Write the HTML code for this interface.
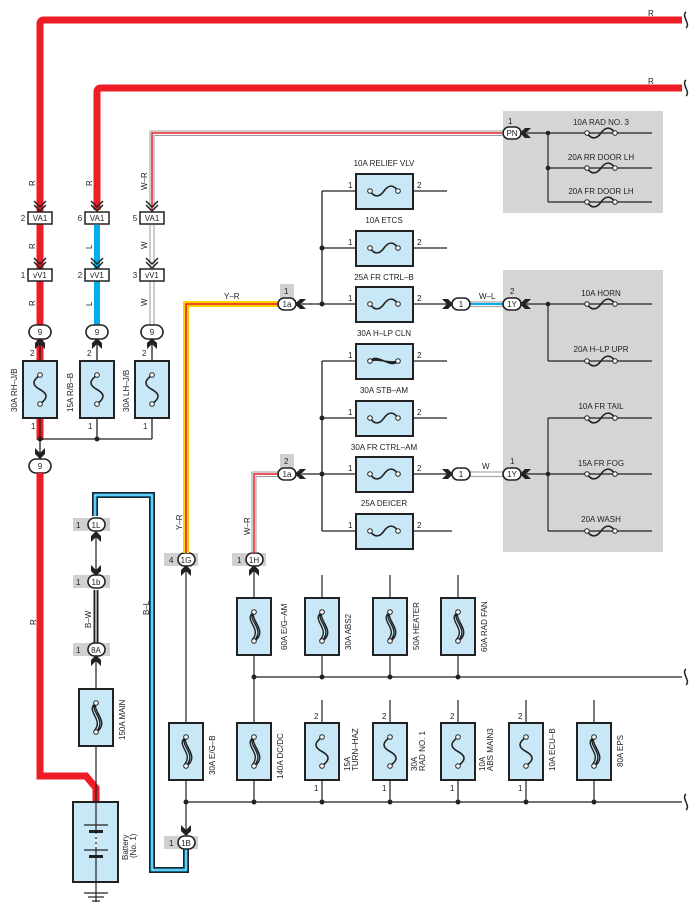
<!DOCTYPE html>
<html><head><meta charset="utf-8"><style>
html,body{margin:0;padding:0;background:#fff;}
svg{display:block;font-family:"Liberation Sans",sans-serif;}
text{font-size:8px;fill:#222;}
</style></head><body>
<svg width="697" height="915" viewBox="0 0 697 915" xmlns="http://www.w3.org/2000/svg">
<defs>
<g id="fv"><rect x="-17" y="0" width="34" height="57" fill="#c8e8f8" stroke="#222" stroke-width="2"/></g>
<g id="sc"><path d="M0,14 C-8,20 -8,24 0,28.5 C8,33 8,37 0,43" fill="none" stroke="#222" stroke-width="1.6"/><circle cx="0" cy="14" r="2.3" fill="#fff" stroke="#222"/><circle cx="0" cy="43" r="2.3" fill="#fff" stroke="#222"/></g>
<g id="lc"><path d="M0,14 C-12,22 9,30 -2,42 M0,14 C-8,22 12,30 0,43 M0,14 C-4,22 13,32 2,42" fill="none" stroke="#222" stroke-width="1.4"/><circle cx="0" cy="14" r="2.3" fill="#fff" stroke="#222"/><circle cx="0" cy="43" r="2.3" fill="#fff" stroke="#222"/></g>
<g id="hs"><path d="M-14,0 C-10,6 -5,7 0,0 C5,-7 10,-6 14,0" fill="none" stroke="#222" stroke-width="1.6"/><circle cx="-14" cy="0" r="2.3" fill="#fff" stroke="#222"/><circle cx="14" cy="0" r="2.3" fill="#fff" stroke="#222"/></g>
<g id="fh"><rect x="-28" y="-17" width="57" height="35" fill="#c8e8f8" stroke="#222" stroke-width="2"/></g>
<g id="ad"><path d="M-5,-5 L0,0 L5,-5 L5,1 L0,6 L-5,1 Z" fill="#222"/></g>
<g id="au"><path d="M-5,5 L0,0 L5,5 L5,-1 L0,-6 L-5,-1 Z" fill="#222"/></g>
<g id="al"><path d="M5,-5 L0,0 L5,5 L-1,5 L-6,0 L-1,-5 Z" fill="#222"/></g>
<g id="ar"><path d="M-5,-5 L0,0 L-5,5 L1,5 L6,0 L1,-5 Z" fill="#222"/></g>
<g id="cc"><path d="M-6,-6 L0,0 L6,-6 M-6,-2 L0,4 L6,-2" fill="none" stroke="#222" stroke-width="1.5"/></g>
<g id="brk"><path d="M0,-8 C-5,-4 5,4 0,8" fill="none" stroke="#222" stroke-width="1.5"/></g>
</defs>

<rect x="503" y="111" width="160" height="102" fill="#d4d5d7"/>
<rect x="503" y="270" width="160" height="282" fill="#d4d5d7"/>

<path d="M40,440 L40,24 Q40,20 44,20 L682,20" fill="none" stroke="#ee1c25" stroke-width="7"/>
<path d="M97,210 L97,92 Q97,88 101,88 L682,88" fill="none" stroke="#ee1c25" stroke-width="7"/>
<use href="#brk" x="686" y="20"/><use href="#brk" x="686" y="88"/>
<text x="648" y="16">R</text><text x="648" y="84">R</text>
<path d="M150,210 L150,131 L502,131" fill="none" stroke="#999" stroke-width="1"/>
<path d="M152,210 L152,133 L502,133" fill="none" stroke="#ee1c25" stroke-width="1.5"/>
<path d="M154,210 L154,135.5 L502,135.5" fill="none" stroke="#999" stroke-width="1"/>

<rect x="37" y="225" width="6" height="100" fill="#ee1c25"/>
<rect x="94" y="225" width="6" height="100" fill="#00aeef"/>
<line x1="150" y1="225" x2="150" y2="325" stroke="#999"/><line x1="154" y1="225" x2="154" y2="325" stroke="#999"/>
<g font-size="8">
<text transform="translate(35,186) rotate(-90)">R</text>
<text transform="translate(92,186) rotate(-90)">R</text>
<text transform="translate(147,190) rotate(-90)">W–R</text>
<text transform="translate(35,249) rotate(-90)">R</text>
<text transform="translate(92,249) rotate(-90)">L</text>
<text transform="translate(147,249) rotate(-90)">W</text>
<text transform="translate(35,306) rotate(-90)">R</text>
<text transform="translate(92,306) rotate(-90)">L</text>
<text transform="translate(147,306) rotate(-90)">W</text>
</g>
<use href="#cc" x="40" y="207"/><use href="#cc" x="97" y="207"/><use href="#cc" x="152" y="207"/>
<use href="#cc" x="40" y="264"/><use href="#cc" x="97" y="264"/><use href="#cc" x="152" y="264"/>
<g stroke="#222" stroke-width="1.5" fill="#fff">
<rect x="28" y="212" width="24" height="12"/><rect x="85" y="212" width="24" height="12"/><rect x="140" y="212" width="24" height="12"/>
<rect x="28" y="269" width="24" height="12"/><rect x="85" y="269" width="24" height="12"/><rect x="140" y="269" width="24" height="12"/>
</g>
<g text-anchor="middle">
<text x="40" y="221">VA1</text><text x="97" y="221">VA1</text><text x="152" y="221">VA1</text>
<text x="40" y="278">vV1</text><text x="97" y="278">vV1</text><text x="152" y="278">vV1</text>
<text x="23" y="221">2</text><text x="80" y="221">6</text><text x="135" y="221">5</text>
<text x="23" y="278">1</text><text x="80" y="278">2</text><text x="135" y="278">3</text>
</g>
<g stroke="#222" stroke-width="1.3">
<line x1="40" y1="338" x2="40" y2="460"/><line x1="97" y1="338" x2="97" y2="439"/><line x1="152" y1="338" x2="152" y2="439"/>
<line x1="40" y1="439" x2="152" y2="439"/>
</g>
<circle cx="40" cy="439" r="2.5" fill="#222"/><circle cx="97" cy="439" r="2.5" fill="#222"/>
<use href="#au" x="40" y="344"/><use href="#au" x="97" y="344"/><use href="#au" x="152" y="344"/>
<g stroke="#222" stroke-width="1.6" fill="#fff">
<rect x="29" y="325" width="22" height="14" rx="7"/><rect x="86" y="325" width="22" height="14" rx="7"/><rect x="141" y="325" width="22" height="14" rx="7"/>
<rect x="29" y="459" width="22" height="14" rx="7"/>
</g>
<g text-anchor="middle"><text x="40" y="335">9</text><text x="97" y="335">9</text><text x="152" y="335">9</text><text x="40" y="469">9</text></g>
<use href="#ad" x="40" y="453"/>
<use href="#fv" x="40" y="361"/><use href="#sc" x="40" y="361"/>
<use href="#fv" x="97" y="361"/><use href="#sc" x="97" y="361"/>
<use href="#fv" x="152" y="361"/><use href="#sc" x="152" y="361"/>
<g><text x="30" y="356">2</text><text x="87" y="356">2</text><text x="142" y="356">2</text>
<text x="31" y="429">1</text><text x="88" y="429">1</text><text x="143" y="429">1</text>
<text transform="translate(17,412) rotate(-90)">30A RH–J/B</text>
<text transform="translate(73,412) rotate(-90)">15A R/B–B</text>
<text transform="translate(129,412) rotate(-90)">30A LH–J/B</text></g>

<path d="M40,473 L40,776 L86,776 L96,788 L96,802" fill="none" stroke="#ee1c25" stroke-width="7"/>
<text transform="translate(36,625) rotate(-90)">R</text>

<path d="M95,516 L95,495 L152,495 L152,870 L186,870 L186,849" fill="none" stroke="#222" stroke-width="6"/>
<path d="M95,516 L95,495 L152,495 L152,870 L186,870 L186,849" fill="none" stroke="#00aeef" stroke-width="3"/>
<path d="M95,516 L95,495 L152,495 L152,870 L186,870 L186,849" fill="none" stroke="#fff" stroke-width="0.8"/>
<text transform="translate(149,615) rotate(-90)">B–L</text>

<line x1="96" y1="590" x2="96" y2="644" stroke="#222" stroke-width="5"/>
<line x1="96" y1="590" x2="96" y2="644" stroke="#ccc" stroke-width="1.5"/>
<text transform="translate(91,628) rotate(-90)">B–W</text>
<g stroke="#222" stroke-width="1.2"><line x1="96" y1="530" x2="96" y2="576"/><line x1="96" y1="656" x2="96" y2="802"/><line x1="96" y1="882" x2="96" y2="902"/></g>
<g fill="#d0d0d0"><rect x="73" y="518" width="37" height="13"/><rect x="73" y="575" width="37" height="13"/><rect x="73" y="643" width="37" height="13"/><rect x="164" y="836" width="34" height="13"/><rect x="164" y="553" width="34" height="13"/><rect x="232" y="553" width="34" height="13"/><rect x="280" y="284" width="14" height="14"/><rect x="280" y="454" width="14" height="14"/></g>
<g stroke="#222" stroke-width="1.6" fill="#fff">
<rect x="88" y="518" width="17" height="13" rx="6.5"/><rect x="88" y="575" width="17" height="13" rx="6.5"/><rect x="88" y="643" width="17" height="13" rx="6.5"/>
<rect x="178" y="836" width="17" height="13" rx="6.5"/><rect x="178" y="553" width="17" height="13" rx="6.5"/><rect x="246" y="553" width="17" height="13" rx="6.5"/>
</g>
<g text-anchor="middle"><text x="96" y="528">1L</text><text x="96" y="585">1b</text><text x="96" y="653">8A</text><text x="186" y="846">1B</text><text x="186" y="563">1G</text><text x="254" y="563">1H</text></g>
<text x="76" y="528">1</text><text x="76" y="585">1</text><text x="76" y="653">1</text><text x="169" y="846">1</text><text x="169" y="563">4</text><text x="237" y="563">1</text>
<use href="#au" x="96" y="537"/><use href="#ad" x="96" y="570"/><use href="#au" x="96" y="661"/>
<use href="#fv" x="96" y="689"/><use href="#lc" x="96" y="689"/>
<text transform="translate(125,740) rotate(-90)">150A MAIN</text>
<rect x="73" y="802" width="45" height="80" fill="#c8e8f8" stroke="#222" stroke-width="2"/>
<line x1="96" y1="802" x2="96" y2="882" stroke="#222" stroke-width="1.2"/>
<line x1="84" y1="825" x2="108" y2="825" stroke="#222" stroke-width="1.2"/>
<rect x="89" y="830" width="14" height="3" fill="#222"/>
<line x1="84" y1="850" x2="108" y2="850" stroke="#222" stroke-width="1.2"/>
<rect x="89" y="855" width="14" height="3" fill="#222"/>
<line x1="96" y1="834" x2="96" y2="849" stroke="#fff" stroke-width="1.5" stroke-dasharray="3,2"/>
<g stroke="#222" stroke-width="1.2"><line x1="84" y1="893" x2="108" y2="893"/><line x1="88" y1="897" x2="104" y2="897"/><line x1="92" y1="901" x2="100" y2="901"/></g>
<text transform="translate(128,860) rotate(-90)">Battery</text>
<text transform="translate(136,858) rotate(-90)">(No. 1)</text>

<path d="M186,553 L186,304 L279,304" fill="none" stroke="#ffd200" stroke-width="6"/>
<path d="M186,553 L186,304 L279,304" fill="none" stroke="#ee1c25" stroke-width="1.6"/>
<text x="224" y="299">Y–R</text>
<text transform="translate(182,530) rotate(-90)">Y–R</text>
<path d="M252,553 L252,472 L279,472" fill="none" stroke="#999" stroke-width="1"/>
<path d="M254,553 L254,474 L279,474" fill="none" stroke="#ee1c25" stroke-width="1.5"/>
<path d="M256,553 L256,476.5 L279,476.5" fill="none" stroke="#999" stroke-width="1"/>
<text transform="translate(250,535) rotate(-90)">W–R</text>

<g stroke="#222" stroke-width="1.6" fill="#fff"><rect x="278" y="298" width="18" height="12" rx="6"/><rect x="278" y="468" width="18" height="12" rx="6"/></g>
<text x="287" y="307" text-anchor="middle">1a</text><text x="287" y="477" text-anchor="middle">1a</text>
<text x="284" y="294">1</text><text x="284" y="464">2</text>
<use href="#al" x="301" y="304"/><use href="#al" x="301" y="474"/>

<g stroke="#222" stroke-width="1.3">
<line x1="302" y1="304" x2="455" y2="304"/><line x1="322" y1="191" x2="322" y2="304"/>
<line x1="322" y1="191" x2="447" y2="191"/><line x1="322" y1="248" x2="447" y2="248"/>
<line x1="302" y1="474" x2="455" y2="474"/><line x1="322" y1="361" x2="322" y2="531"/>
<line x1="322" y1="361" x2="447" y2="361"/><line x1="322" y1="418" x2="447" y2="418"/><line x1="322" y1="531" x2="452" y2="531"/>
</g>
<g fill="#222"><circle cx="322" cy="248" r="2.5"/><circle cx="322" cy="304" r="2.5"/><circle cx="322" cy="418" r="2.5"/><circle cx="322" cy="474" r="2.5"/></g>
<use href="#fh" x="384" y="191"/><use href="#hs" x="384" y="191"/>
<use href="#fh" x="384" y="248"/><use href="#hs" x="384" y="248"/>
<use href="#fh" x="384" y="304"/><use href="#hs" x="384" y="304"/>
<use href="#fh" x="384" y="361"/>
<path d="M370,361 C378,352 390,370 398,361 M370,361 C378,355 390,367 398,361 M370,361 C378,358 390,364 398,361" fill="none" stroke="#222" stroke-width="1.5"/>
<circle cx="370" cy="361" r="2.3" fill="#fff" stroke="#222"/><circle cx="398" cy="361" r="2.3" fill="#fff" stroke="#222"/>
<use href="#fh" x="384" y="418"/><use href="#hs" x="384" y="418"/>
<use href="#fh" x="384" y="474"/><use href="#hs" x="384" y="474"/>
<use href="#fh" x="384" y="531"/><use href="#hs" x="384" y="531"/>
<g text-anchor="middle">
<text x="384" y="166">10A RELIEF VLV</text><text x="384" y="223">10A ETCS</text><text x="384" y="280">25A FR CTRL–B</text>
<text x="384" y="336">30A H–LP CLN</text><text x="384" y="393">30A STB–AM</text><text x="384" y="450">30A FR CTRL–AM</text><text x="384" y="506">25A DEICER</text>
</g>
<g>
<text x="348" y="188">1</text><text x="417" y="188">2</text><text x="348" y="245">1</text><text x="417" y="245">2</text>
<text x="348" y="301">1</text><text x="417" y="301">2</text><text x="348" y="358">1</text><text x="417" y="358">2</text>
<text x="348" y="415">1</text><text x="417" y="415">2</text><text x="348" y="471">1</text><text x="417" y="471">2</text>
<text x="348" y="528">1</text><text x="417" y="528">2</text>
</g>
<use href="#ar" x="447" y="304"/><use href="#ar" x="447" y="474"/>
<path d="M470,302 L503,302" stroke="#aaa" stroke-width="1.2"/><path d="M470,304 L503,304" stroke="#00aeef" stroke-width="2"/><path d="M470,306.5 L503,306.5" stroke="#aaa" stroke-width="1.2"/>
<path d="M470,472 L503,472" stroke="#aaa" stroke-width="1.2"/><path d="M470,476.5 L503,476.5" stroke="#aaa" stroke-width="1.2"/>
<g stroke="#222" stroke-width="1.6" fill="#fff">
<rect x="452" y="298" width="18" height="12" rx="6"/><rect x="452" y="468" width="18" height="12" rx="6"/>
<rect x="503" y="298" width="18" height="12" rx="6"/><rect x="503" y="468" width="18" height="12" rx="6"/>
<rect x="503" y="127" width="18" height="12" rx="6"/>
</g>
<g text-anchor="middle"><text x="461" y="307">1</text><text x="461" y="477">1</text><text x="512" y="307">1Y</text><text x="512" y="477">1Y</text><text x="512" y="136">PN</text></g>
<text x="479" y="299">W–L</text><text x="482" y="469">W</text>
<text x="510" y="294">2</text><text x="510" y="464">1</text><text x="508" y="124">1</text>
<use href="#al" x="526" y="304"/><use href="#al" x="526" y="474"/><use href="#al" x="526" y="133"/>
<g stroke="#222" stroke-width="1.2">
<line x1="527" y1="133" x2="652" y2="133"/><line x1="548" y1="133" x2="548" y2="202"/><line x1="548" y1="168" x2="652" y2="168"/><line x1="548" y1="202" x2="652" y2="202"/>
<line x1="527" y1="304" x2="652" y2="304"/><line x1="548" y1="304" x2="548" y2="361"/><line x1="548" y1="361" x2="652" y2="361"/>
<line x1="527" y1="474" x2="652" y2="474"/><line x1="548" y1="418" x2="548" y2="531"/><line x1="548" y1="418" x2="652" y2="418"/><line x1="548" y1="531" x2="652" y2="531"/>
</g>
<g fill="#222"><circle cx="548" cy="133" r="2.3"/><circle cx="548" cy="168" r="2.3"/><circle cx="548" cy="304" r="2.3"/><circle cx="548" cy="474" r="2.3"/></g>
<g>
<use href="#hs" x="601" y="133"/><use href="#hs" x="601" y="168"/><use href="#hs" x="601" y="202"/>
<use href="#hs" x="601" y="304"/><use href="#hs" x="601" y="361"/><use href="#hs" x="601" y="418"/><use href="#hs" x="601" y="474"/><use href="#hs" x="601" y="531"/>
</g>
<g text-anchor="middle">
<text x="601" y="125">10A RAD NO. 3</text><text x="601" y="160">20A RR DOOR LH</text><text x="601" y="194">20A FR DOOR LH</text>
<text x="601" y="296">10A HORN</text><text x="601" y="352">20A H–LP UPR</text><text x="601" y="409">10A FR TAIL</text><text x="601" y="466">15A FR FOG</text><text x="601" y="522">20A WASH</text>
</g>

<g stroke="#222" stroke-width="1.2">
<line x1="186" y1="566" x2="186" y2="836"/>
<line x1="254" y1="566" x2="254" y2="802"/>
<line x1="254" y1="677" x2="682" y2="677"/>
<line x1="186" y1="802" x2="682" y2="802"/>
<line x1="322" y1="575" x2="322" y2="677"/><line x1="390" y1="575" x2="390" y2="677"/><line x1="458" y1="575" x2="458" y2="677"/>
<line x1="322" y1="700" x2="322" y2="802"/><line x1="390" y1="700" x2="390" y2="802"/><line x1="458" y1="700" x2="458" y2="802"/><line x1="526" y1="700" x2="526" y2="802"/><line x1="594" y1="700" x2="594" y2="802"/>
</g>
<use href="#brk" x="686" y="677"/><use href="#brk" x="686" y="802"/>
<g fill="#222">
<circle cx="254" cy="677" r="2.5"/><circle cx="322" cy="677" r="2.5"/><circle cx="390" cy="677" r="2.5"/><circle cx="458" cy="677" r="2.5"/>
<circle cx="186" cy="802" r="2.5"/><circle cx="254" cy="802" r="2.5"/><circle cx="322" cy="802" r="2.5"/><circle cx="390" cy="802" r="2.5"/><circle cx="458" cy="802" r="2.5"/><circle cx="526" cy="802" r="2.5"/><circle cx="594" cy="802" r="2.5"/>
</g>
<use href="#au" x="186" y="571"/><use href="#au" x="254" y="571"/><use href="#ad" x="186" y="830"/>
<use href="#fv" x="254" y="598"/><use href="#lc" x="254" y="598"/>
<use href="#fv" x="322" y="598"/><use href="#lc" x="322" y="598"/>
<use href="#fv" x="390" y="598"/><use href="#lc" x="390" y="598"/>
<use href="#fv" x="458" y="598"/><use href="#lc" x="458" y="598"/>
<use href="#fv" x="186" y="723"/><use href="#lc" x="186" y="723"/>
<use href="#fv" x="254" y="723"/><use href="#lc" x="254" y="723"/>
<use href="#fv" x="322" y="723"/><use href="#sc" x="322" y="723"/>
<use href="#fv" x="390" y="723"/><use href="#sc" x="390" y="723"/>
<use href="#fv" x="458" y="723"/><use href="#sc" x="458" y="723"/>
<use href="#fv" x="526" y="723"/><use href="#sc" x="526" y="723"/>
<use href="#fv" x="594" y="723"/><use href="#lc" x="594" y="723"/>
<g>
<text transform="translate(287,650) rotate(-90)">60A E/G–AM</text>
<text transform="translate(351,650) rotate(-90)">30A ABS2</text>
<text transform="translate(419,650) rotate(-90)">50A HEATER</text>
<text transform="translate(487,652) rotate(-90)">60A RAD FAN</text>
<text transform="translate(215,775) rotate(-90)">30A E/G–B</text>
<text transform="translate(283,779) rotate(-90)">140A DC/DC</text>
<text transform="translate(350,771) rotate(-90)">15A</text><text transform="translate(358,771) rotate(-90)">TURN–HAZ</text>
<text transform="translate(417,771) rotate(-90)">30A</text><text transform="translate(425,771) rotate(-90)">RAD NO. 1</text>
<text transform="translate(485,771) rotate(-90)">10A</text><text transform="translate(493,771) rotate(-90)">ABS MAIN3</text>
<text transform="translate(555,771) rotate(-90)">10A ECU–B</text>
<text transform="translate(623,767) rotate(-90)">80A EPS</text>
<text x="314" y="719">2</text><text x="382" y="719">2</text><text x="450" y="719">2</text><text x="518" y="719">2</text>
<text x="314" y="791">1</text><text x="382" y="791">1</text><text x="450" y="791">1</text><text x="518" y="791">1</text>
</g>
</svg>
</body></html>
